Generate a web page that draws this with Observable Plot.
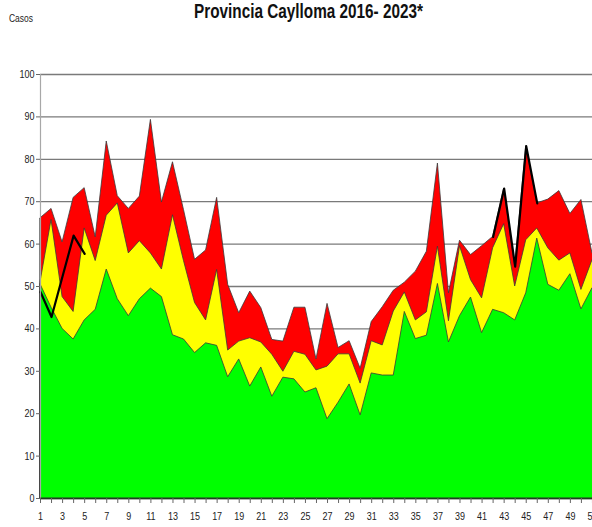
<!DOCTYPE html>
<html><head><meta charset="utf-8">
<script src="https://cdn.jsdelivr.net/npm/d3@7"></script>
<script src="https://cdn.jsdelivr.net/npm/@observablehq/plot@0.6"></script>
<style>
html,body{margin:0;padding:0;background:#fff;overflow:hidden;}
#chart svg{overflow:hidden;display:block}
</style></head><body><div id="chart"></div>
<script>
const weeks = [1,2,3,4,5,6,7,8,9,10,11,12,13,14,15,16,17,18,19,20,21,22,23,24,25,26,27,28,29,30,31,32,33,34,35,36,37,38,39,40,41,42,43,44,45,46,47,48,49,50,51,52];
const xLabelWeeks = [1,3,5,7,9,11,13,15,17,19,21,23,25,27,29,31,33,35,37,39,41,43,45,47,49,51];
const yTicks = [0,10,20,30,40,50,60,70,80,90,100];

// Zona de éxito (verde)
const green = [50.5,45,40,37.5,42,44.5,54,47,43,47,49.5,47.5,38.5,37.5,34.3,36.6,36,28.6,32.8,26.4,30.9,24,28.5,28.1,25,26,18.7,22.6,26.9,19.6,29.5,29,29,44,37.6,38.4,50.6,36.8,43,47.4,39,44.5,43.7,42,48.4,61.3,50.4,49,52.9,44.6,49.6,50];
// Zona de seguridad (amarillo)
const yellow = [51,65.7,47.5,44,63.7,56,66.7,69.6,57.8,60.7,57.8,54,66.8,56,46.1,42,53.9,34.9,37,37.8,36.8,33.9,29.9,34.6,33.9,30.2,31.1,34,34,27.1,37.1,36.1,44.1,48.6,42,43.9,59.4,41.8,59.5,51.5,47.2,59,64.7,50,60.9,63.7,59,56.1,57.8,49.2,56.2,55];
// Zona de alarma (rojo)
const red = [66.1,68.3,60.4,70.9,73.2,61.6,84.2,71.3,68.3,71.2,89.3,69.8,79.3,68,56.3,58.5,70.9,50.4,43.7,48.8,44.9,37.4,37,45,45,32.8,45.9,35.5,37.1,30.6,41.6,45.1,49,50.9,53.5,58.2,79,48.4,60.8,57.4,59.5,61.7,73.1,54.7,83.1,69.6,70.5,72.5,67.1,70.4,57.8,60];
// Casos (línea negra)
const current = [48.7,42.8,52.4,62,57.7,null,null,null,null,null,null,null,null,null,null,null,null,null,null,null,null,null,null,null,null,null,null,null,null,null,null,null,null,null,null,null,null,null,null,null,null,61.7,73.1,54.7,83.1,69.6,null,null,null,null,null,null];

const titleText = "Provincia Caylloma 2016- 2023*";
const yLabelText = "Casos";

const rows = weeks.map((w,i)=>({week:w, green:green[i], yellow:yellow[i], red:red[i], current:current[i]}));

const chart = Plot.plot({
  width: 592, height: 527,
  marginTop: 74, marginBottom: 29, marginLeft: 40, marginRight: -11,
  style: {fontFamily: "'Liberation Sans', Arial, sans-serif", fontSize: "11px", background: "white", color: "#222"},
  x: {domain: [1, 52]},
  y: {domain: [0, 100]},
  marks: [
    Plot.ruleY(yTicks, {stroke: "#7a7a7a", strokeWidth: 1.3}),
    Plot.areaY(rows, {x: "week", y: "red", fill: "#ff0000", stroke: "#3a3a3a", strokeWidth: 0.8}),
    Plot.areaY(rows, {x: "week", y: "yellow", fill: "#ffff00", stroke: "#3a3a3a", strokeWidth: 0.8}),
    Plot.areaY(rows, {x: "week", y: "green", fill: "#00ff00", stroke: "#3a3a3a", strokeWidth: 0.8}),
    Plot.lineY(rows, {x: "week", y: "current", stroke: "black", strokeWidth: 2.2}),
    Plot.ruleX([1], {stroke: "#a8a8a8", strokeWidth: 1.2}),
    Plot.ruleY([0], {stroke: "#1f3f1f", strokeWidth: 1.3}),
    Plot.axisY({ticks: yTicks, tickSize: 4, tickPadding: 2, label: null, stroke: "#666"}),
    Plot.axisX({ticks: weeks, tickSize: 5, text: null, label: null, stroke: "#666"}),
    Plot.axisX({ticks: xLabelWeeks, tickSize: 0, tickPadding: 14, label: null})
  ]
});
document.getElementById("chart").append(chart);

// condensed look for tick labels
d3.select(chart).selectAll("g[aria-label$='tick label'] text").each(function(){
  const L = this.getComputedTextLength();
  this.setAttribute("textLength", (L * 0.82).toFixed(1));
  this.setAttribute("lengthAdjust", "spacingAndGlyphs");
});

const svg = d3.select(chart);
svg.append("text")
  .attr("x", 308.5).attr("y", 18)
  .attr("text-anchor", "middle")
  .attr("font-family", "'Liberation Sans', Arial, sans-serif")
  .attr("font-weight", "bold").attr("font-size", 20)
  .attr("fill", "#111")
  .attr("textLength", 229).attr("lengthAdjust", "spacingAndGlyphs")
  .text(titleText);
svg.append("text")
  .attr("x", 9).attr("y", 22)
  .attr("text-anchor", "start")
  .attr("font-family", "'Liberation Sans', Arial, sans-serif")
  .attr("font-size", 10.5).attr("fill", "#222")
  .attr("textLength", 24).attr("lengthAdjust", "spacingAndGlyphs")
  .text(yLabelText);
</script></body></html>
